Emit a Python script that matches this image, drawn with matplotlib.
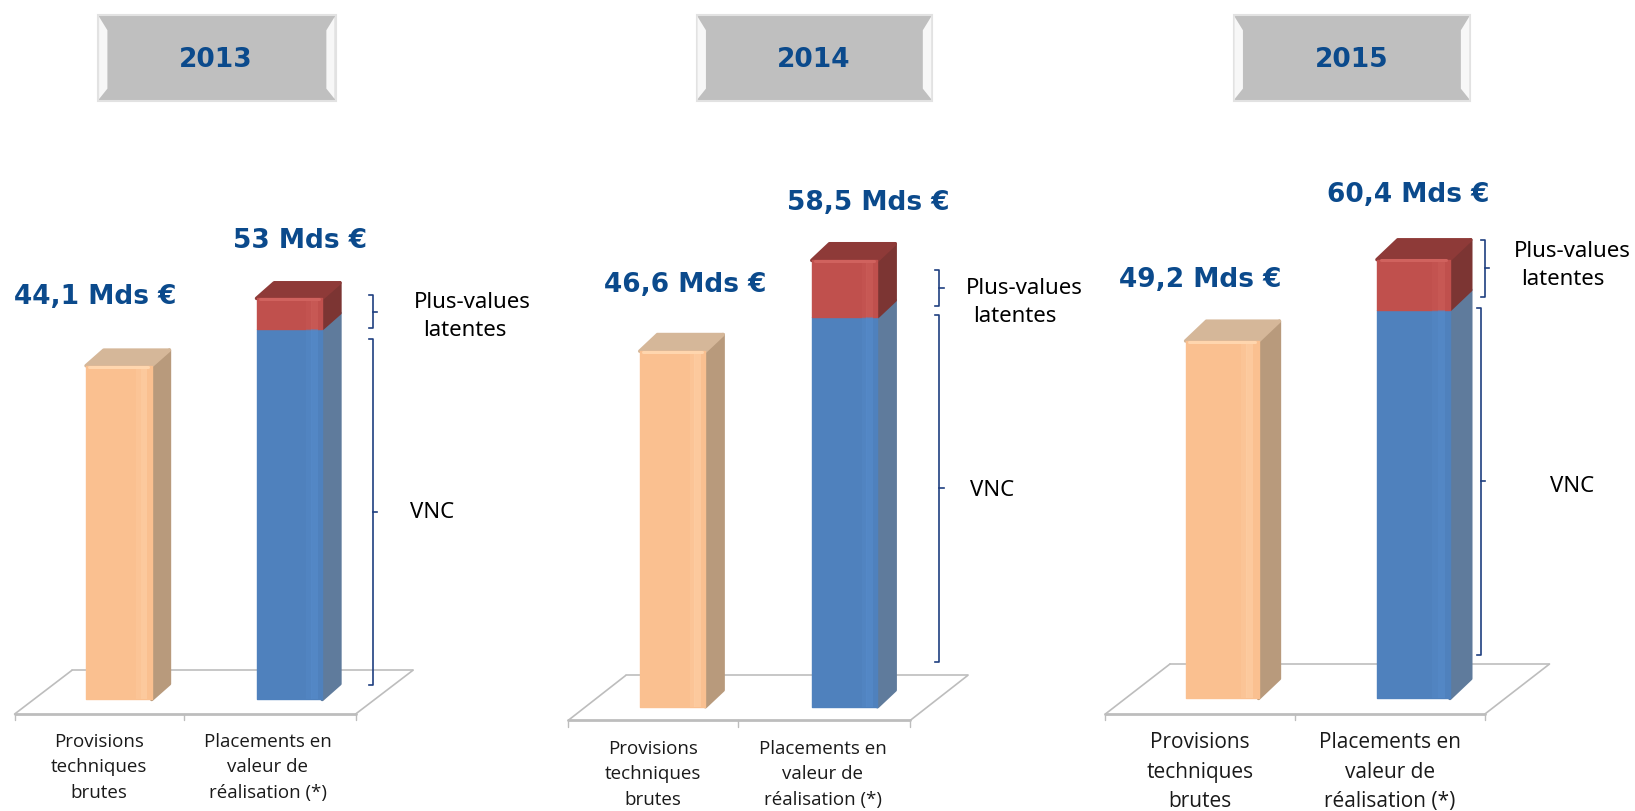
import matplotlib
matplotlib.use("Agg")
import matplotlib.pyplot as plt
from matplotlib.patches import Polygon, Rectangle

years = ["2013", "2014", "2015"]
provisions = [44.1, 46.6, 49.2]
placements_vnc = [49.0, 51.1, 53.5]
placements_latent = [4.0, 7.4, 6.9]
provisions_labels = ["44,1 Mds €", "46,6 Mds €", "49,2 Mds €"]
placements_labels = ["53 Mds €", "58,5 Mds €", "60,4 Mds €"]
cat_left = "Provisions\ntechniques\nbrutes"
cat_right = "Placements en\nvaleur de\nréalisation (*)"
latent_lines = ["Plus-values", "latentes"]
vnc_label = "VNC"

W, H = 1568.0, 779.0
NAVY = "#0b4a8c"
BRACE = "#1f3f80"
fig = plt.figure(figsize=(16.35, 8.12), dpi=100, facecolor="white")


def face(ax, pts, color, z=3):
    ax.add_patch(Polygon(pts, closed=True, facecolor=color, edgecolor=color, lw=2.5,
                         joinstyle="round", clip_on=False, zorder=z))


def bar3d(ax, x, bottom, height, w, dx, dy, front, hi, side, top=None):
    r = x + w / 2
    l = x - w / 2
    t = bottom + height
    face(ax, [(r, bottom), (r + dx, bottom + dy), (r + dx, t + dy), (r, t)], side)
    if top:
        face(ax, [(l, t), (l + dx, t + dy), (r + dx, t + dy), (r, t)], top)
    bars = ax.bar(x, height, w, bottom=bottom, color=front, edgecolor=front, lw=1.0, zorder=4, clip_on=False)
    for b in bars:
        b.set_joinstyle("round")
    # soft highlight strips along the right of the front face
    ax.bar(x + w * 0.38, height, w * 0.10, bottom=bottom, color=hi, alpha=0.45, zorder=5, clip_on=False, lw=0)
    ax.bar(x + w * 0.30, height, w * 0.08, bottom=bottom, color=hi, alpha=0.22, zorder=5, clip_on=False, lw=0)
    if top:
        ax.plot([l + w * 0.05, r - w * 0.05], [t - 0.12] * 2, color=hi, lw=2.2, zorder=6, clip_on=False,
                solid_capstyle="round")


def panel(i, base, scale, c1, c2, w_px, d_px, dy_px, fx0, fx1, fy, tickx, back_dx, back_y):
    ymax = 70.0
    left = fx0 - 2
    right = fx1 + 70
    ax = fig.add_axes([left / W, 1 - base / H, (right - left) / W, ymax * scale / H])
    sp = c2 - c1
    ax.set_xlim((left - c1) / sp, (right - c1) / sp)
    ax.set_ylim(0, ymax)
    ax.axis("off")
    xd = lambda p: (p - c1) / sp
    yd = lambda p: (base - p) / scale
    grey = "#bdbdbd"
    kw = dict(color=grey, clip_on=False, zorder=1, solid_capstyle="round")
    ax.plot([xd(fx0), xd(fx1)], [yd(fy)] * 2, lw=2.0, **kw)
    ax.plot([xd(fx0 + back_dx), xd(fx1 + back_dx)], [yd(back_y)] * 2, lw=1.2, **kw)
    ax.plot([xd(fx0), xd(fx0 + back_dx)], [yd(fy), yd(back_y)], lw=1.2, **kw)
    ax.plot([xd(fx1), xd(fx1 + back_dx)], [yd(fy), yd(back_y)], lw=1.2, **kw)
    for t in (fx0, tickx, fx1):
        ax.plot([xd(t)] * 2, [yd(fy), yd(fy + 6)], lw=1.0, **kw)
    w = w_px / sp
    dx = d_px / sp
    dy = dy_px / scale
    bar3d(ax, 0, 0, provisions[i], w, dx, dy, "#fac090", "#ffd6ae", "#b89a7c", "#d5b799")
    bar3d(ax, 1, 0, placements_vnc[i], w, dx, dy, "#4f81bd", "#5a90d0", "#5f7b9c")
    bar3d(ax, 1, placements_vnc[i], placements_latent[i], w, dx, dy, "#c0504d", "#d0625e", "#7c3533", "#8e3a38")
    return ax


panel(0, 672, 7.26, 114, 277.5, 63, 17, 15, 14, 341, 686, 176, 55, 644)
panel(1, 679, 7.32, 645, 810, 63, 17, 16, 545, 873, 692, 708, 55, 649)
panel(2, 671, 6.97, 1172, 1355.5, 70, 20, 19, 1060, 1424, 686, 1242, 62, 638)

# overlay in reference coordinates
ov = fig.add_axes([0, 0, 1, 1], zorder=10)
ov.set_xlim(0, W)
ov.set_ylim(H, 0)
ov.axis("off")
ov.patch.set_alpha(0)

val_font = dict(color=NAVY, fontsize=19, fontweight="bold", family="DejaVu Sans", ha="center", va="center")

banners = [(94, 322, 207), (668, 894, 780), (1183, 1410, 1296)]
for yr, (x0, x1, xc) in zip(years, banners):
    y0, y1 = 15, 98
    ov.add_patch(Rectangle((x0, y0), x1 - x0, y1 - y0, facecolor="#bfbfbf", edgecolor="#e2e2e2", lw=1.5))
    ov.add_patch(Polygon([(x0 + 1, y0 + 2), (x0 + 9, y0 + 15), (x0 + 9, y1 - 12), (x0 + 1, y1 - 2)], facecolor="#f7f7f7", lw=0))
    ov.add_patch(Polygon([(x1 - 1, y0 + 2), (x1 - 9, y0 + 15), (x1 - 9, y1 - 12), (x1 - 1, y1 - 2)], facecolor="#f7f7f7", lw=0))
    ov.text(xc, 58, yr, **val_font)

for lab, (x, y) in zip(provisions_labels, [(91, 285), (657, 273), (1151, 269)]):
    ov.text(x, y, lab, **val_font)
for lab, (x, y) in zip(placements_labels, [(288, 231), (833, 195), (1351, 187)]):
    ov.text(x, y, lab, **val_font)

cat_font = dict(color="#1a1a1a", family="Open Sans", ha="center", va="center")
for (x, y, fs, ls), txt in zip([(95, 736, 13.5, 1.54), (257, 736, 13.5, 1.54), (626, 743, 13.5, 1.54), (789, 743, 13.5, 1.54),
                                (1151, 741, 15, 1.53), (1333, 741, 15, 1.53)],
                               [cat_left, cat_right] * 3):
    ov.text(x, y, txt, fontsize=fs, linespacing=ls, **cat_font)

side_font = dict(color="black", family="Noto Sans", fontsize=16, ha="center", va="center")
for (x1, x2, y1, y2) in [(453, 446, 290, 317), (982, 973, 277, 304), (1508, 1499, 241, 268)]:
    ov.text(x1, y1, latent_lines[0], **side_font)
    ov.text(x2, y2, latent_lines[1], **side_font)
for x, y in [(414, 492), (951, 471), (1508, 467)]:
    ov.text(x, y, vnc_label, **side_font)


def brace(x, y0, y1, tick=None):
    ym = (y0 + y1) / 2 if tick is None else tick
    ov.plot([x - 4, x, x, x - 4], [y0, y0, y1, y1], color=BRACE, lw=1.2, solid_joinstyle="round")
    ov.plot([x, x + 4], [ym, ym], color=BRACE, lw=1.2)


brace(358, 284, 316)
brace(358, 326, 658, 492)
brace(901, 260, 295)
brace(901, 303, 636, 469)
brace(1424, 231, 286)
brace(1420, 296, 629, 462)

fig.savefig("out.png", dpi=100, facecolor="white")
